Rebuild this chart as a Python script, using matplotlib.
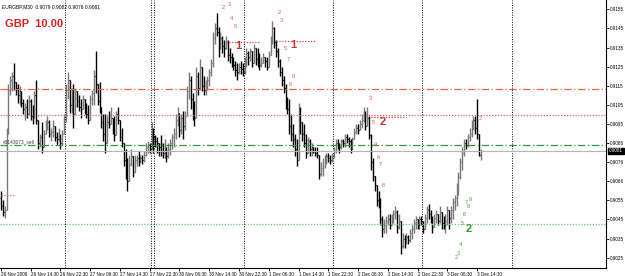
import matplotlib
matplotlib.use("Agg")
import matplotlib.pyplot as plt
import numpy as np

# EURGBP M30 bars, prices in points (x 0.0001)
highs = [9060, 9055, 9052, 9093, 9116, 9120, 9122, 9127, 9117, 9116,
         9115, 9112, 9108, 9106, 9108, 9110, 9108, 9105, 9112, 9118,
         9097, 9090, 9096, 9092, 9097, 9099, 9097, 9093, 9097, 9093,
         9091, 9093, 9089, 9092, 9100, 9116, 9122, 9117, 9114, 9116,
         9114, 9112, 9110, 9108, 9110, 9108, 9106, 9105, 9110, 9113,
         9123, 9133, 9115, 9117, 9104, 9100, 9100, 9099, 9102, 9104,
         9097, 9099, 9102, 9104, 9097, 9093, 9083, 9082, 9077, 9079,
         9082, 9078, 9079, 9079, 9081, 9079, 9079, 9081, 9085, 9086,
         9085, 9096, 9093, 9089, 9088, 9085, 9089, 9085, 9087, 9083,
         9085, 9087, 9090, 9093, 9100, 9104, 9100, 9100, 9102, 9102,
         9115, 9122, 9120, 9111, 9107, 9125, 9122, 9129, 9122, 9120,
         9118, 9120, 9124, 9129, 9143, 9148, 9153, 9146, 9143, 9141,
         9139, 9141, 9139, 9135, 9132, 9130, 9128, 9127, 9127, 9128,
         9127, 9130, 9135, 9133, 9135, 9133, 9137, 9133, 9135, 9132,
         9130, 9132, 9130, 9130, 9133, 9141, 9149, 9146, 9139, 9135,
         9129, 9125, 9120, 9116, 9109, 9108, 9100, 9095, 9090, 9087,
         9106, 9104, 9095, 9095, 9090, 9088, 9087, 9085, 9083, 9083,
         9083, 9077, 9075, 9077, 9079, 9080, 9080, 9079, 9080, 9083,
         9087, 9087, 9085, 9087, 9087, 9090, 9090, 9088, 9087, 9088,
         9093, 9095, 9095, 9097, 9100, 9104, 9102, 9104, 9099, 9090,
         9077, 9068, 9063, 9060, 9056, 9047, 9045, 9047, 9048, 9048,
         9048, 9050, 9052, 9050, 9048, 9040, 9038, 9037, 9038, 9037,
         9040, 9042, 9045, 9047, 9045, 9047, 9047, 9044, 9048, 9052,
         9053, 9050, 9047, 9048, 9050, 9048, 9052, 9048, 9047, 9048,
         9052, 9048, 9052, 9056, 9058, 9064, 9070, 9077, 9083, 9087,
         9087, 9090, 9093, 9097, 9099, 9099, 9108, 9088, 9082]
lows = [9050, 9047, 9046, 9069, 9093, 9110, 9112, 9113, 9110, 9106,
        9105, 9104, 9100, 9097, 9098, 9100, 9097, 9095, 9098, 9095,
        9082, 9083, 9080, 9085, 9090, 9092, 9088, 9086, 9088, 9086,
        9084, 9086, 9082, 9084, 9090, 9096, 9108, 9101, 9101, 9093,
        9102, 9104, 9102, 9098, 9104, 9100, 9098, 9095, 9104, 9105,
        9105, 9111, 9105, 9101, 9093, 9086, 9080, 9090, 9093, 9095,
        9090, 9086, 9093, 9095, 9086, 9083, 9073, 9066, 9060, 9069,
        9073, 9067, 9071, 9073, 9073, 9075, 9074, 9075, 9078, 9080,
        9080, 9083, 9080, 9083, 9080, 9078, 9078, 9077, 9077, 9075,
        9077, 9079, 9082, 9083, 9087, 9094, 9088, 9090, 9087, 9092,
        9101, 9108, 9103, 9097, 9094, 9108, 9110, 9113, 9112, 9110,
        9110, 9113, 9115, 9120, 9125, 9137, 9141, 9130, 9134, 9132,
        9130, 9134, 9128, 9127, 9125, 9123, 9120, 9118, 9121, 9121,
        9120, 9121, 9125, 9126, 9128, 9125, 9128, 9126, 9125, 9123,
        9125, 9127, 9125, 9123, 9126, 9132, 9137, 9135, 9130, 9125,
        9120, 9115, 9111, 9103, 9100, 9090, 9086, 9083, 9078, 9073,
        9086, 9090, 9086, 9083, 9077, 9080, 9078, 9078, 9080, 9078,
        9077, 9066, 9068, 9068, 9072, 9074, 9075, 9074, 9075, 9077,
        9080, 9082, 9080, 9082, 9083, 9083, 9085, 9083, 9080, 9083,
        9087, 9090, 9090, 9092, 9093, 9096, 9092, 9095, 9087, 9071,
        9065, 9060, 9052, 9051, 9042, 9036, 9038, 9038, 9042, 9040,
        9043, 9043, 9045, 9038, 9040, 9027, 9030, 9030, 9032, 9032,
        9033, 9035, 9038, 9040, 9040, 9040, 9042, 9038, 9040, 9043,
        9045, 9043, 9038, 9042, 9043, 9042, 9043, 9040, 9040, 9038,
        9042, 9040, 9043, 9045, 9050, 9052, 9058, 9066, 9071, 9078,
        9082, 9083, 9086, 9088, 9092, 9090, 9087, 9078, 9076]
closes = [9052, 9049, 9050, 9090, 9113, 9118, 9120, 9117, 9114, 9110,
          9112, 9106, 9103, 9104, 9100, 9107, 9099, 9098, 9110, 9097,
          9085, 9088, 9083, 9090, 9095, 9096, 9090, 9091, 9094, 9088,
          9087, 9090, 9085, 9090, 9098, 9113, 9118, 9105, 9110, 9100,
          9112, 9107, 9104, 9103, 9108, 9102, 9100, 9097, 9108, 9111,
          9120, 9116, 9107, 9104, 9096, 9090, 9085, 9096, 9095, 9098,
          9092, 9089, 9100, 9097, 9088, 9085, 9076, 9070, 9065, 9074,
          9078, 9070, 9076, 9077, 9075, 9077, 9076, 9079, 9083, 9084,
          9082, 9090, 9088, 9086, 9085, 9083, 9081, 9080, 9083, 9078,
          9082, 9085, 9088, 9090, 9097, 9101, 9092, 9098, 9094, 9099,
          9112, 9118, 9108, 9100, 9098, 9120, 9114, 9125, 9115, 9113,
          9116, 9118, 9122, 9127, 9140, 9145, 9143, 9134, 9140, 9136,
          9135, 9138, 9131, 9130, 9128, 9126, 9123, 9122, 9125, 9124,
          9122, 9128, 9132, 9130, 9133, 9127, 9135, 9129, 9128, 9126,
          9127, 9130, 9128, 9125, 9131, 9139, 9145, 9138, 9133, 9128,
          9122, 9118, 9114, 9107, 9103, 9094, 9090, 9087, 9082, 9076,
          9100, 9096, 9090, 9085, 9080, 9086, 9082, 9083, 9081, 9080,
          9079, 9069, 9072, 9073, 9076, 9078, 9077, 9076, 9078, 9081,
          9085, 9084, 9083, 9086, 9085, 9088, 9087, 9086, 9082, 9087,
          9091, 9093, 9092, 9095, 9097, 9100, 9094, 9098, 9089, 9075,
          9068, 9063, 9055, 9054, 9045, 9040, 9042, 9044, 9045, 9042,
          9046, 9048, 9049, 9041, 9044, 9031, 9035, 9033, 9036, 9034,
          9038, 9040, 9043, 9045, 9042, 9045, 9044, 9040, 9046, 9050,
          9048, 9045, 9041, 9046, 9048, 9044, 9049, 9043, 9042, 9044,
          9050, 9046, 9050, 9054, 9056, 9062, 9067, 9075, 9080, 9085,
          9084, 9088, 9090, 9094, 9097, 9093, 9090, 9079, 9081]
first_open = 9056

# time axis labels (every 16 bars)
time_labels = ["26 Nov 2009", "26 Nov 14:30", "26 Nov 22:30", "27 Nov 06:30",
               "27 Nov 14:30", "27 Nov 22:30", "30 Nov 06:30", "30 Nov 14:30",
               "30 Nov 22:30", "1 Dec 06:30", "1 Dec 14:30", "1 Dec 22:30",
               "2 Dec 06:30", "2 Dec 14:30", "2 Dec 22:30", "3 Dec 06:30",
               "3 Dec 14:30"]
day_breaks = [34.5, 80.5, 82.5, 130.5, 178.5, 226.5, 274.5]

# price axis labels as shown by the terminal
price_ticks = [0.9155, 0.9145, 0.9135, 0.9125, 0.9115, 0.9105, 0.9095,
               0.9085, 0.9075, 0.9065, 0.9055, 0.9045, 0.9035, 0.9025]
price_labels = ["0.9155", "0.9145", "0.9135", "0.9125", "0.9115", "0.9105",
                "0.9095", "0.9086", "0.9076", "0.9066", "0.9055", "0.9045",
                "0.9035", "0.9025"]

# horizontal levels
level_orange = 0.91134
level_red = 0.90998
level_green = 0.90838
level_bid = 0.9081
level_green_low = 0.90426

plt.rcParams['font.family'] = ['Liberation Sans', 'DejaVu Sans']

h = np.array(highs) / 10000
l = np.array(lows) / 10000
c = np.array(closes) / 10000
o = np.concatenate([[first_open / 10000], c[:-1]])
h = np.maximum(h, o)
l = np.minimum(l, o)
idx = np.arange(len(c))

fig = plt.figure(figsize=(6.25, 2.76), dpi=100)
ax = fig.add_axes([0, 0.029, 0.9696, 0.971])

up = c >= o
for mask, col in [(up, '#7a7a7a'), (~up, '#000000')]:
    ax.vlines(idx[mask], l[mask], h[mask], color=col, lw=1.0)
    ax.hlines(o[mask], idx[mask] - 0.5, idx[mask], color=col, lw=0.8)
    ax.hlines(c[mask], idx[mask], idx[mask] + 0.5, color=col, lw=0.8)

# day separators
for d in day_breaks:
    ax.axvline(d, color='black', lw=0.7, ls=(0, (1, 1.5)))

# levels
ax.axhline(level_orange, color='#e8643c', lw=0.9, ls=(0, (6, 2, 1, 2)))
ax.axhline(level_red, color='#ec5a5a', lw=0.9, ls=(0, (1, 1.3)))
ax.axhline(level_green, color='#2f9a40', lw=0.9, ls=(0, (6, 2, 1, 2)))
ax.axhline(level_bid, color='#b4b4b4', lw=0.8)
ax.axhline(level_green_low, color='#70c070', lw=0.9, ls=(0, (1, 1.3)))

# short red dotted segments
ax.hlines([0.90577], 0, 7.5, color='#ec5a5a', lw=0.9, ls=(0, (1, 1.3)))
ax.hlines([0.91377], 121, 139, color='#d04040', lw=0.9, ls=(0, (1, 1.3)))
ax.hlines([0.91386], 148, 169, color='#d04040', lw=0.9, ls=(0, (1, 1.3)))
ax.hlines([0.90986], 199, 218, color='#d04040', lw=0.9, ls=(0, (1, 1.3)))

# wave labels
red_small = [("2", 119.4, 0.91562), ("3", 122.6, 0.91574), ("4", 123.7, 0.91500),
             ("5", 125.8, 0.91462), ("2", 149.5, 0.91531), ("3", 151.0, 0.91494),
             ("5", 152.7, 0.91345), ("7", 154.3, 0.91287), ("8", 155.4, 0.91155),
             ("9", 157.0, 0.91200), ("3", 198.4, 0.91082), ("5", 200.0, 0.90957),
             ("4", 201.1, 0.90845), ("6", 202.7, 0.90776), ("7", 203.8, 0.90740),
             ("8", 205.4, 0.90630), ("2", 257.5, 0.90980)]
for t, x, y in red_small:
    ax.text(x, y, t, color='#e05050', fontsize=4, ha='center', va='center')
green_small = [("2", 244.6, 0.90252), ("3", 245.7, 0.90273), ("4", 246.8, 0.90320),
               ("5", 247.8, 0.90430), ("6", 248.9, 0.90477), ("7", 250.0, 0.90540),
               ("8", 251.1, 0.90519), ("9", 252.2, 0.90555)]
for t, x, y in green_small:
    ax.text(x, y, t, color='#3aa03a', fontsize=4, ha='center', va='center')

ax.text(127.4, 0.91356, "1", color='#c83232', fontsize=8, fontweight='bold', ha='center', va='center')
ax.text(157.0, 0.91366, "1", color='#c83232', fontsize=8, fontweight='bold', ha='center', va='center')
ax.text(205.4, 0.90962, "2", color='#c83232', fontsize=8, fontweight='bold', ha='center', va='center')
ax.text(251.6, 0.90400, "2", color='#2e9a2e', fontsize=8, fontweight='bold', ha='center', va='center')

ax.text(1.0, 0.90855, "#3143073_sell", color='#404040', fontsize=3.5, ha='left', va='center')

# header texts
ax.text(0.004, 0.985, "EURGBP,M30  0.9079 0.9082 0.9076 0.9081", transform=ax.transAxes,
        fontsize=3.5, color='black', ha='left', va='top')
ax.text(0.008, 0.93, "GBP  10.00", transform=ax.transAxes, fontsize=8,
        fontweight='bold', color='#e02020', ha='left', va='top')

ax.set_xlim(-0.5, 325.3)
ax.set_ylim(0.90196, 0.91599)

ax.set_xticks(np.arange(len(time_labels)) * 16)
ax.set_xticklabels(time_labels, fontsize=3.3, ha='left')
ax.tick_params(axis='x', length=2, width=0.6, pad=1)

ax.yaxis.tick_right()
ax.set_yticks(price_ticks)
ax.set_yticklabels(price_labels, fontsize=3.3)
ax.tick_params(axis='y', length=2, width=0.6, pad=1)

# current price box
ax.text(1.005, (level_bid - 0.90196) / (0.91599 - 0.90196), "0.9081",
        transform=ax.transAxes, fontsize=3.3, color='white', ha='left', va='center',
        bbox=dict(boxstyle='square,pad=0.15', fc='black', ec='black'))

for s in ['top', 'left']:
    ax.spines[s].set_visible(False)
ax.spines['right'].set_linewidth(0.8)
ax.spines['bottom'].set_linewidth(0.8)

fig.savefig("out.png", dpi=100)
